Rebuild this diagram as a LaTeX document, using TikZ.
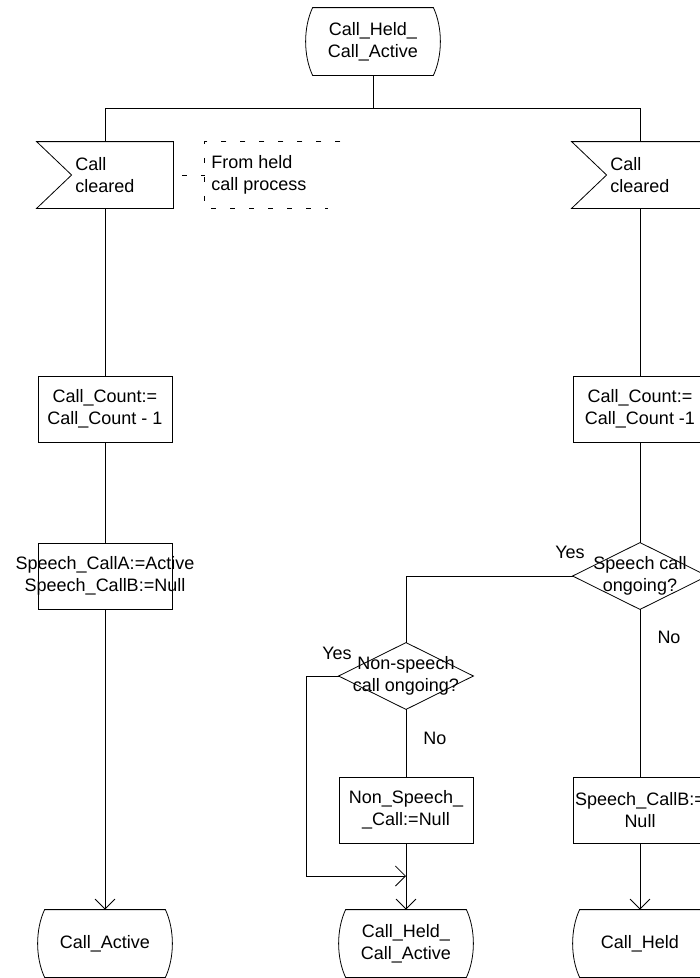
\documentclass[tikz,border=0pt]{standalone}
\usepackage{fontspec}
\setmainfont{Liberation Sans}
\usetikzlibrary{arrows.meta,calc}
\newcommand\drawstate[1]{\draw ($(#1.north west)+(7,0)$) -- ($(#1.north east)+(-7,0)$) .. controls ($(#1.north east)+(2.3,20)$) and ($(#1.south east)+(2.3,-20)$) .. ($(#1.south east)+(-7,0)$) -- ($(#1.south west)+(7,0)$) .. controls ($(#1.south west)+(-2.3,-20)$) and ($(#1.north west)+(-2.3,20)$) .. cycle;}
\newcommand\drawinput[1]{\draw (#1.north west) -- (#1.north east) -- (#1.south east) -- (#1.south west) -- ($(#1.west)+(35,0)$) -- cycle;}
\newcommand\drawdecision[1]{\draw (#1.north) -- (#1.east) -- (#1.south) -- (#1.west) -- cycle;}
\begin{document}
\begin{tikzpicture}[x=1pt,y=-1pt,line width=0.8pt,
  every node/.style={font=\fontsize{18}{22}\selectfont, inner sep=0pt, align=center},
  statebox/.style={minimum width=134pt, minimum height=67pt},
  taskbox/.style={draw, minimum width=134pt, minimum height=66pt},
  inbox/.style={minimum width=136pt, minimum height=66pt},
  decbox/.style={minimum width=134pt, minimum height=66pt},
  lefttext/.style={anchor=west, align=left},
  arr/.style={-{Straight Barb[length=10pt,width=20pt]}},
  cmtdash/.style={dash pattern=on 5pt off 14pt}
]
\useasboundingbox (0,0) rectangle (700,978);
\clip (0,0) rectangle (700,978);

% nodes
\node[statebox] (s0) at (373,41.5) {Call\_Held\_\\Call\_Active};
\coordinate (j) at (373,108);
\node[inbox] (in1) at (105,175) {};
\node[lefttext] (in1t) at (75,175) {Call\\cleared};
\node[inbox] (in2) at (640,175) {};
\node[lefttext] (in2t) at (610,175) {Call\\cleared};
\node[minimum width=135pt, minimum height=66pt] (cm) at (272.5,175) {};
\node[lefttext] (cmt) at (211,175) {From held\\call process};
\node[taskbox] (t1) at (105,409) {Call\_Count:=\\Call\_Count - 1};
\node[taskbox] (t2) at (105,576) {\makebox[0pt]{Speech\_CallA:=Active}\\\makebox[0pt]{Speech\_CallB:=Null}};
\node[statebox] (s1) at (105,943.5) {Call\_Active};
\node[taskbox] (t3) at (640,409) {Call\_Count:=\\Call\_Count -1};
\node[decbox] (d1) at (640,576) {Speech call\\ongoing?};
\node[decbox] (d2) at (406,676) {Non-speech\\call ongoing?};
\node[taskbox] (t4) at (406,810) {Non\_Speech\_\\\_Call:=Null};
\node[taskbox] (t5) at (640,810) {\makebox[0pt]{Speech\_CallB:=}\\Null};
\node[statebox] (s2) at (406,943.5) {Call\_Held\_\\Call\_Active};
\node[statebox] (s3) at (640,943.5) {Call\_Held};

\node (y1) at (570,552) {Yes};
\node (n1) at (669,637) {No};
\node (y2) at (337,653) {Yes};
\node (n2) at (435,738) {No};

\coordinate (lp) at (306,676);
\coordinate (mg) at (406,876);

% shapes
\drawstate{s0}
\drawstate{s1}
\drawstate{s2}
\drawstate{s3}
\drawinput{in1}
\drawinput{in2}
\drawdecision{d1}
\drawdecision{d2}
\draw[cmtdash] (cm.north east) -- (cm.north west) -- (cm.south west) -- ($(cm.south east)+(-12,0)$);

% connectors
\draw (s0.south) -- (j);
\draw (in1.north) -- (in1.north |- j) -- (in2.north |- j) -- (in2.north);
\draw[cmtdash, dash phase=10pt] (in1.east) -- (cm.west);
\draw (in1.south) -- (t1.north);
\draw (t1.south) -- (t2.north);
\draw[arr] (t2.south) -- (s1.north);
\draw (in2.south) -- (t3.north);
\draw (t3.south) -- (d1.north);
\draw (d1.west) -| (d2.north);
\draw (d1.south) -- (t5.north);
\draw[arr] (t5.south) -- (s3.north);
\draw (d2.south) -- (t4.north);
\draw[arr] (t4.south) -- (s2.north);
\draw[arr] (d2.west) -- (lp) |- (mg);
\end{tikzpicture}
\end{document}
